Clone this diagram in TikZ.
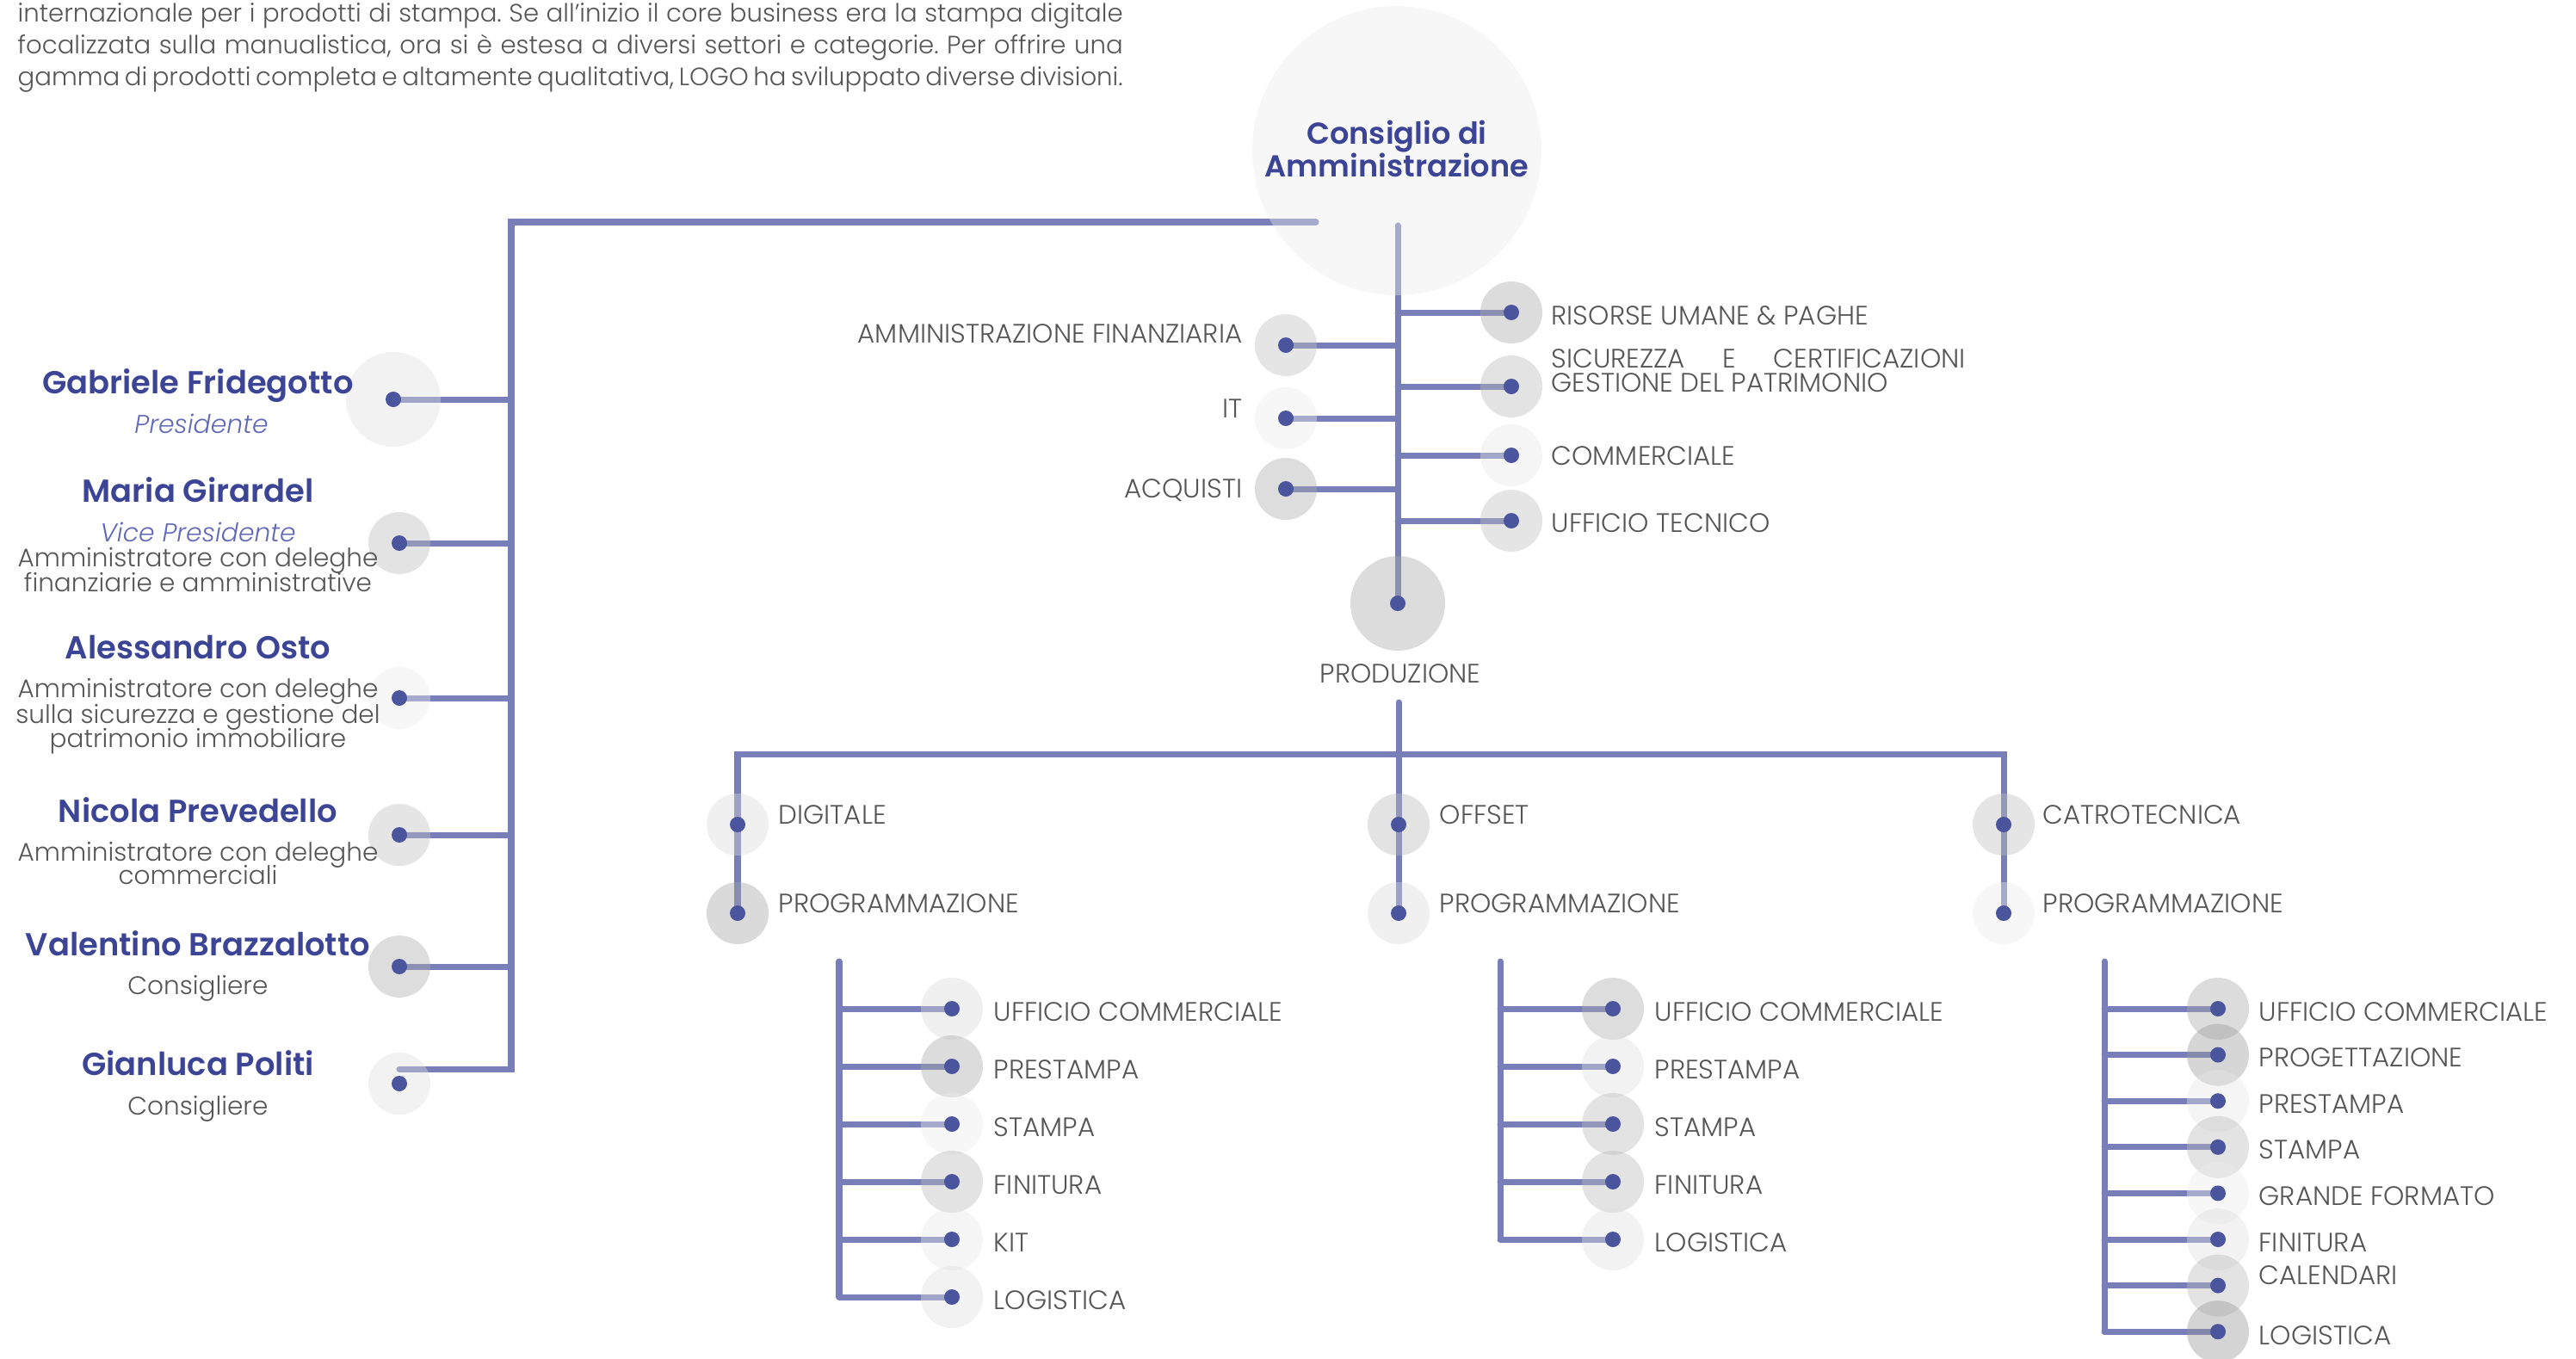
\documentclass[tikz,border=0pt]{standalone}
\usepackage{fontspec}
\setmainfont{Poppins}[UprightFont=* Light, ItalicFont=* Light Italic, BoldFont=* SemiBold]
\definecolor{lineblue}{HTML}{787FB8}
\definecolor{dotblue}{HTML}{4B559E}
\definecolor{nameblue}{HTML}{3C4595}
\definecolor{roleblue}{HTML}{6169B7}
\definecolor{txtgray}{HTML}{555555}
\frenchspacing

\begin{document}
\begin{tikzpicture}[x=1cm, y=-1cm,
    conn/.style={draw=lineblue, line width=2pt, line cap=round},
    bub/.style={circle, inner sep=0pt, minimum size=7.2mm, fill=black!#1, fill opacity=.4},
    bigbub/.style={bub=#1, minimum size=11mm},
    dot/.style={circle, inner sep=0pt, minimum size=1.8mm, fill=dotblue},
    lbl/.style={font=\fontsize{8.8}{10}\selectfont, text=txtgray, inner sep=0pt},
    pname/.style={font=\fontsize{10.5}{12}\selectfont\bfseries, text=nameblue, inner sep=0pt, anchor=base},
    prole/.style={font=\fontsize{8.5}{10}\selectfont\itshape, text=roleblue, inner sep=0pt, anchor=base},
    pdesc/.style={font=\fontsize{8.4}{10}\selectfont, text=txtgray, inner sep=0pt, anchor=base},
    hdr/.style={font=\fontsize{8.3}{10.5}\selectfont, text=txtgray, inner sep=0pt, anchor=base west}]

    \useasboundingbox (0,0) rectangle (29.93,15.78);

    % testo introduttivo
    \node[hdr] (intro1) at (0.20,0.25) {\makebox[12.84cm][s]{internazionale per i prodotti di stampa. Se all'inizio il core business era la stampa digitale}};
    \node[hdr] (intro2) at (0.20,0.62) {\makebox[12.84cm][s]{focalizzata sulla manualistica, ora si è estesa a diversi settori e categorie. Per offrire una}};
    \node[hdr] (intro3) at (0.20,0.99) {\makebox[12.84cm][s]{gamma di prodotti completa e altamente qualitativa, LOGO ha sviluppato diverse divisioni.}};

    % punti di aggancio
    \coordinate (cda) at (16.23,1.75);
    \coordinate (cda-l) at (15.29,2.58);
    \coordinate (cda-v) at (16.24,2.62);
    \coordinate (bus-top) at (5.94,2.58);
    \coordinate (bus-bot) at (5.94,12.42);
    \coordinate (gp-end) at (4.64,12.42);

    \coordinate (gf-c) at (4.57,4.64);
    \coordinate (mg-c) at (4.64,6.31);
    \coordinate (ao-c) at (4.64,8.11);
    \coordinate (np-c) at (4.64,9.70);
    \coordinate (vb-c) at (4.64,11.23);
    \coordinate (gp-c) at (4.64,12.59);

    \coordinate (amm) at (14.94,4.01);
    \coordinate (it) at (14.94,4.86);
    \coordinate (acq) at (14.94,5.68);
    \coordinate (hr) at (17.56,3.63);
    \coordinate (sic) at (17.56,4.49);
    \coordinate (comm) at (17.56,5.29);
    \coordinate (tec) at (17.56,6.05);
    \coordinate (prod) at (16.24,7.01);
    \coordinate (prod-out) at (16.25,8.16);
    \coordinate (bar) at (16.25,8.76);

    \coordinate (dig) at (8.57,9.58);
    \coordinate (dig-p) at (8.57,10.61);
    \coordinate (off) at (16.25,9.58);
    \coordinate (off-p) at (16.25,10.61);
    \coordinate (cat) at (23.28,9.58);
    \coordinate (cat-p) at (23.28,10.61);

    % collegamenti
    \draw[conn] (cda-l) -- (bus-top) -- (bus-bot) -- (gp-end);
    \foreach \p in {gf,mg,ao,np,vb}
        \draw[conn] (\p-c) -- (\p-c -| bus-top);
    \draw[conn] (cda-v) -- (prod);
    \foreach \c in {amm,it,acq,hr,sic,comm,tec}
        \draw[conn] (\c -| prod) -- (\c);
    \draw[conn] (dig-p) -- (dig |- bar) -- (cat |- bar) -- (cat-p);
    \draw[conn] (prod-out) -- (off-p);

    % cerchi
    \node[bub=8, minimum size=33.6mm] (cda-b) at (cda) {};
    \node[bigbub=13] (gf-b) at (gf-c) {};
    \node[bub=27] (mg-b) at (mg-c) {};
    \node[bub=8] (ao-b) at (ao-c) {};
    \node[bub=25] (np-b) at (np-c) {};
    \node[bub=33] (vb-b) at (vb-c) {};
    \node[bub=13] (gp-b) at (gp-c) {};
    \foreach \c/\s in {amm/25,it/8,acq/33,hr/34,sic/27,comm/10,tec/25,dig/15,dig-p/36,off/27,off-p/15,cat/25,cat-p/8}
        \node[bub=\s] (\c-b) at (\c) {};
    \node[bigbub=34] (prod-b) at (prod) {};

    % punti
    \foreach \c in {gf-c,mg-c,ao-c,np-c,vb-c,gp-c,amm,it,acq,hr,sic,comm,tec,prod,dig,dig-p,off,off-p,cat,cat-p}
        \node[dot] (\c-d) at (\c) {};

    % consiglio
    \node[pname, font=\fontsize{10}{12}\selectfont\bfseries] (cda-t1) at (16.23,1.67) {Consiglio di};
    \node[pname, font=\fontsize{10}{12}\selectfont\bfseries] (cda-t2) at (16.23,2.05) {Amministrazione};

    % persone
    \node[pname] (gf) at (2.30,4.57) {Gabriele Fridegotto};
    \node[prole] (gf-r) at (2.34,5.03) {Presidente};
    \node[pname] (mg) at (2.30,5.83) {Maria Girardel};
    \node[prole] (mg-r) at (2.30,6.29) {Vice Presidente};
    \node[pdesc] (mg-d1) at (2.30,6.58) {Amministratore con deleghe};
    \node[pdesc] (mg-d2) at (2.30,6.87) {finanziarie e amministrative};
    \node[pname] (ao) at (2.30,7.65) {Alessandro Osto};
    \node[pdesc] (ao-d1) at (2.30,8.10) {Amministratore con deleghe};
    \node[pdesc] (ao-d2) at (2.30,8.40) {sulla sicurezza e gestione del};
    \node[pdesc] (ao-d3) at (2.30,8.68) {patrimonio immobiliare};
    \node[pname] (np) at (2.30,9.55) {Nicola Prevedello};
    \node[pdesc] (np-d1) at (2.30,10.00) {Amministratore con deleghe};
    \node[pdesc] (np-d2) at (2.30,10.27) {commerciali};
    \node[pname] (vb) at (2.30,11.10) {Valentino Brazzalotto};
    \node[pdesc] (vb-d) at (2.30,11.55) {Consigliere};
    \node[pname] (gp) at (2.30,12.49) {Gianluca Politi};
    \node[pdesc] (gp-d) at (2.30,12.95) {Consigliere};

    % funzioni
    \node[lbl, anchor=base east] (amm-t) at (14.44,3.98) {AMMINISTRAZIONE FINANZIARIA};
    \node[lbl, anchor=base east] (it-t) at (14.44,4.85) {IT};
    \node[lbl, anchor=base east] (acq-t) at (14.44,5.78) {ACQUISTI};
    \node[lbl, anchor=base west] (hr-t) at (18.02,3.77) {RISORSE UMANE \& PAGHE};
    \node[lbl, anchor=base west] (sic-t1) at (18.02,4.27) {\makebox[4.81cm][s]{SICUREZZA\hfill E\hfill CERTIFICAZIONI}};
    \node[lbl, anchor=base west] (sic-t2) at (18.02,4.55) {GESTIONE DEL PATRIMONIO};
    \node[lbl, anchor=base west] (comm-t) at (18.02,5.40) {COMMERCIALE};
    \node[lbl, anchor=base west] (tec-t) at (18.02,6.18) {UFFICIO TECNICO};
    \node[lbl, anchor=base] (prod-t) at (16.27,7.93) {PRODUZIONE};

    % divisioni
    \node[lbl, anchor=base west] (dig-t) at (9.04,9.57) {DIGITALE};
    \node[lbl, anchor=base west] (dig-pt) at (9.04,10.60) {PROGRAMMAZIONE};
    \node[lbl, anchor=base west] (off-t) at (16.72,9.57) {OFFSET};
    \node[lbl, anchor=base west] (off-pt) at (16.72,10.60) {PROGRAMMAZIONE};
    \node[lbl, anchor=base west] (cat-t) at (23.73,9.57) {CATROTECNICA};
    \node[lbl, anchor=base west] (cat-pt) at (23.73,10.60) {PROGRAMMAZIONE};

    % reparti digitale
    \coordinate (dl-top) at (9.75,11.17);
    \coordinate (dl-bot) at (9.75,15.07);
    \draw[conn] (dl-top) -- (dl-bot);
    \foreach \lab/\s [count=\i] in {UFFICIO COMMERCIALE/15,PRESTAMPA/34,STAMPA/8,FINITURA/27,KIT/10,LOGISTICA/13}{
        \pgfmathsetmacro\yy{11.72+0.67*(\i-1)}
        \coordinate (dl\i) at (11.06,\yy);
        \draw[conn] (dl-top |- dl\i) -- (dl\i);
        \node[bub=\s] (dl\i-b) at (dl\i) {};
        \node[dot] (dl\i-d) at (dl\i) {};
        \node[lbl, anchor=base west] (dl\i-t) at ([xshift=4.8mm, yshift=-1.4mm]dl\i) {\lab};
    }

    % reparti offset
    \coordinate (ol-top) at (17.43,11.17);
    \coordinate (ol-bot) at (17.43,14.40);
    \draw[conn] (ol-top) -- (ol-bot);
    \foreach \lab/\s [count=\i] in {UFFICIO COMMERCIALE/33,PRESTAMPA/13,STAMPA/27,FINITURA/27,LOGISTICA/13}{
        \pgfmathsetmacro\yy{11.72+0.67*(\i-1)}
        \coordinate (ol\i) at (18.74,\yy);
        \draw[conn] (ol-top |- ol\i) -- (ol\i);
        \node[bub=\s] (ol\i-b) at (ol\i) {};
        \node[dot] (ol\i-d) at (ol\i) {};
        \node[lbl, anchor=base west] (ol\i-t) at ([xshift=4.8mm, yshift=-1.4mm]ol\i) {\lab};
    }

    % reparti cartotecnica
    \coordinate (cl-top) at (24.45,11.17);
    \coordinate (cl-bot) at (24.45,15.47);
    \draw[conn] (cl-top) -- (cl-bot);
    \foreach \lab/\s/\o [count=\i] in {UFFICIO COMMERCIALE/34/1.4,PROGETTAZIONE/40/1.4,PRESTAMPA/10/1.4,STAMPA/27/1.4,GRANDE FORMATO/8/1.4,FINITURA/13/1.4,CALENDARI/27/-0.1,LOGISTICA/42/1.5}{
        \pgfmathsetmacro\yy{11.72+0.536*(\i-1)}
        \coordinate (cl\i) at (25.77,\yy);
        \draw[conn] (cl-top |- cl\i) -- (cl\i);
        \node[bub=\s] (cl\i-b) at (cl\i) {};
        \node[dot] (cl\i-d) at (cl\i) {};
        \node[lbl, anchor=base west] (cl\i-t) at ([xshift=4.7mm, yshift=-\o mm]cl\i) {\lab};
    }
\end{tikzpicture}
\end{document}
